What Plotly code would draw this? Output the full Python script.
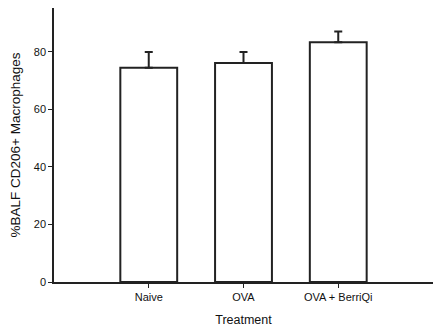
import plotly.graph_objects as go

categories = ["Naive", "OVA", "OVA + BerriQi"]
values = [74.5, 76.2, 83.4]
errors = [5.5, 3.8, 3.7]
y_ticks = [0, 20, 40, 60, 80]

fig = go.Figure()
fig.add_trace(go.Bar(
    x=list(range(len(categories))),
    y=values,
    width=0.6,
    marker=dict(color="white", line=dict(color="#222222", width=2)),
    error_y=dict(type="data", symmetric=False, array=errors,
                 arrayminus=[0] * len(errors), color="#222222",
                 thickness=2, width=4),
))

fig.update_layout(
    width=433, height=327,
    margin=dict(l=54, r=0, t=8, b=45),
    plot_bgcolor="white", paper_bgcolor="white",
    showlegend=False,
    font=dict(family="Liberation Sans, Arial, sans-serif", size=11, color="#111111"),
    xaxis=dict(
        range=[-1, 3], tickmode="array",
        tickvals=list(range(len(categories))), ticktext=categories,
        showline=True, linecolor="#222222", linewidth=1.5,
        ticks="outside", ticklen=4, tickcolor="#222222",
        showgrid=False, zeroline=False,
        title=dict(text="Treatment", font=dict(size=12.5), standoff=14),
        tickfont=dict(size=11),
    ),
    yaxis=dict(
        range=[0, 95.3], tickvals=y_ticks,
        showline=True, linecolor="#222222", linewidth=1.5,
        ticks="outside", ticklen=4, tickcolor="#222222",
        showgrid=False, zeroline=False,
        title=dict(text="%BALF CD206+ Macrophages", font=dict(size=13.5), standoff=10),
        tickfont=dict(size=11),
    ),
)

fig.write_html("out.html")
